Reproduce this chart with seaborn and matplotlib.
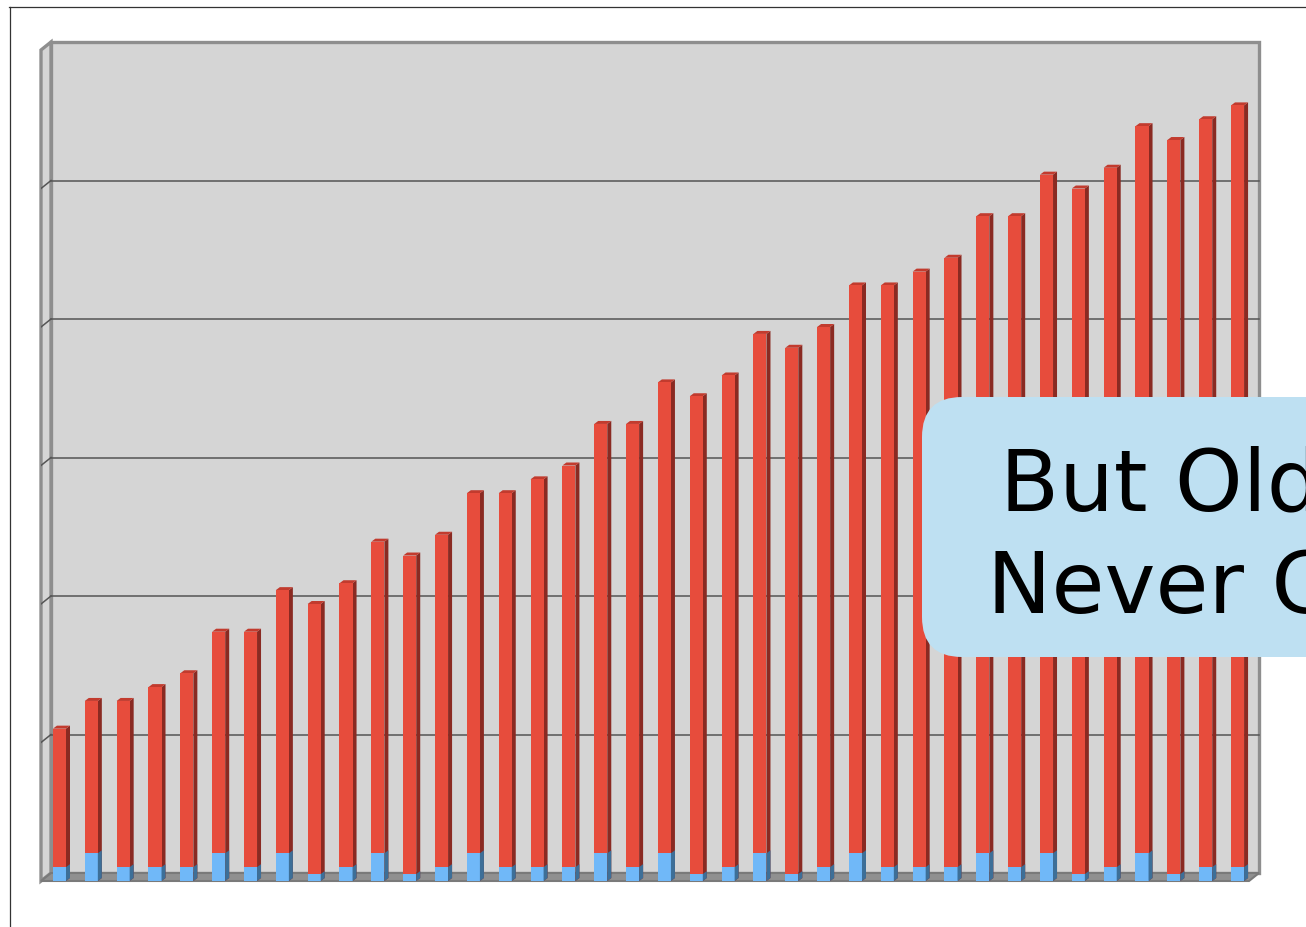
import numpy as np
import pandas as pd
import matplotlib
matplotlib.use('Agg')
import matplotlib.pyplot as plt
import matplotlib.transforms as mtransforms
from matplotlib.patches import Polygon, Rectangle, FancyBboxPatch
from matplotlib.lines import Line2D
import seaborn as sns

# Data (gridline step = 10)
releases = [str(i) for i in range(1, 39)]
total = [11, 13, 13, 14, 15, 18, 18, 21, 20, 21.5, 24.5, 23.5, 25, 28, 28, 29, 30,
         33, 33, 36, 35, 36.5, 39.5, 38.5, 40, 43, 43, 44, 45, 48, 48, 51, 50,
         51.5, 54.5, 53.5, 55, 56]
new_part = [1, 2, 1, 1, 1, 2, 1, 2, 0.5, 1, 2, 0.5, 1, 2, 1, 1, 1, 2, 1, 2, 0.5,
            1, 2, 0.5, 1, 2, 1, 1, 1, 2, 1, 2, 0.5, 1, 2, 0.5, 1, 1]
grid_vals = [10, 20, 30, 40, 50]
callout_lines = ['But Old Code', 'Never Goes Away']

df = pd.DataFrame({'release': releases, 'total': total, 'new': new_part})

W, H = 1306, 928
fig = plt.figure(figsize=(W / 100, H / 100), dpi=100)
fig.patch.set_facecolor('white')
ax = fig.add_axes([41 / W, 1 - 882 / H, (1249 - 41) / W, (882 - 51) / H])
ax.set_xlim(-0.58, 37.36)
ax.set_ylim(0, 60)
ax.axis('off')

wall = '#d5d5d5'
edge = '#8e8e8e'
red, red_side, red_top = '#e74c3c', '#8a2a22', '#c23b2e'
blue, blue_side = '#70b8f8', '#3d6f98'

# depth offset of the back wall (pixels)
back = mtransforms.ScaledTranslation(10 / 100, 8 / 100, fig.dpi_scale_trans)
ident = mtransforms.IdentityTransform()

x0, x1 = ax.get_xlim()
def px(x, y):
    return ax.transData.transform((x, y))

# back wall
ax.add_patch(Rectangle((0, 0), 1, 1, transform=ax.transAxes + back, facecolor=wall,
                       edgecolor=edge, lw=2.4, clip_on=False, zorder=0))
# left wall
fl_b, fl_t = px(x0, 0), px(x0, 60)
d = np.array([10, 8])
ax.add_patch(Polygon([fl_b, fl_t, fl_t + d, fl_b + d], closed=True, transform=ident,
                     facecolor=wall, edgecolor=edge, lw=2.4, clip_on=False, zorder=0.1))
# floor
fr_b = px(x1, 0)
ax.add_patch(Polygon([fl_b, fr_b, fr_b + d, fl_b + d], closed=True, transform=ident,
                     facecolor='#909090', edgecolor='#7a7a7a', lw=1.5, clip_on=False, zorder=0.2))

# gridlines on back wall and on left wall
for g in grid_vals:
    ax.plot([x0, x1], [g, g], color='#555555', lw=1.1, transform=ax.transData + back,
            clip_on=False, zorder=0.3)
    a = px(x0, g)
    ax.add_line(Line2D([a[0], a[0] + d[0]], [a[1], a[1] + d[1]], transform=ident,
                       color='#555555', lw=1.1, zorder=0.3))

# bars: total in red, new part in blue at the bottom
sns.barplot(data=df, x='release', y='total', color=red, saturation=1, width=0.41,
            errorbar=None, ax=ax, zorder=2)
sns.barplot(data=df, x='release', y='new', color=blue, saturation=1, width=0.41,
            errorbar=None, ax=ax, zorder=2)
ax.set_xlim(x0, x1)
ax.set_ylim(0, 60)
ax.axis('off')

# fake 3D sides and tops for each bar
bd = np.array([4, 3])
for cont, is_red in zip(ax.containers, [True, False]):
    for p in cont.patches:
        bx, by, bw, bh = p.get_x(), p.get_y(), p.get_width(), p.get_height()
        lr = px(bx + bw, by)
        ul, ur = px(bx, by + bh), px(bx + bw, by + bh)
        ax.add_patch(Polygon([lr, ur, ur + bd, lr + bd], closed=True, transform=ident,
                             facecolor=red_side if is_red else blue_side, lw=0,
                             zorder=1.9 if is_red else 2.5))
        if is_red:
            ax.add_patch(Polygon([ul, ur, ur + bd, ul + bd], closed=True, transform=ident,
                                 facecolor=red_top, lw=0, zorder=1.9))

# outer slide frame
fig.add_artist(Line2D([9 / W, 1], [1 - 7.5 / H, 1 - 7.5 / H], transform=fig.transFigure,
                      color='#333333', lw=0.9))
fig.add_artist(Line2D([9.5 / W, 9.5 / W], [0, 1 - 7.5 / H], transform=fig.transFigure,
                      color='#333333', lw=0.9))

# callout box (runs off the right edge, as in the original slide)
box = FancyBboxPatch((922, H - 658), 600, 260, boxstyle='round,pad=0,rounding_size=40',
                     transform=ident, facecolor='#bee0f2', edgecolor='none', zorder=5)
fig.add_artist(box)
fig.text(1000 / W, 1 - 510 / H, callout_lines[0], fontsize=62, va='baseline', ha='left',
         color='black', zorder=6)
fig.text(987 / W, 1 - 613 / H, callout_lines[1], fontsize=62, va='baseline', ha='left',
         color='black', zorder=6)

fig.savefig('out.png', dpi=100)
